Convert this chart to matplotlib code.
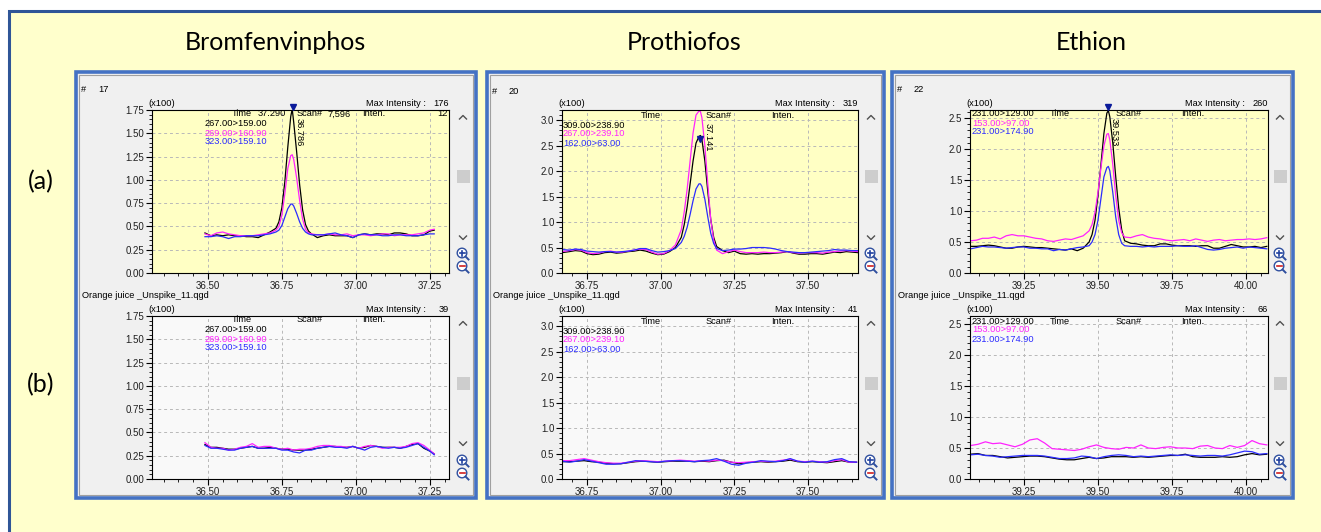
import matplotlib
matplotlib.use("Agg")
import matplotlib.pyplot as plt
from matplotlib.patches import Rectangle, Circle
from matplotlib.ticker import MultipleLocator, FormatStrFormatter

W, H = 1321, 532

# ---- labels -------------------------------------------------------------
titles = ["Bromfenvinphos", "Prothiofos", "Ethion"]
row_labels = ["(a)", "(b)"]
transitions = [
    ["267.00>159.00", "269.00>160.90", "323.00>159.10"],
    ["309.00>238.90", "267.00>239.10", "162.00>63.00"],
    ["231.00>129.00", "153.00>97.00", "231.00>174.90"],
]
event_no = ["17", "20", "22"]
max_int_a = ["176", "319", "260"]
max_int_b = ["39", "41", "66"]
peak_rt = ["36.786", "37.141", "39.533"]
peak_pos = [36.787, 37.135, 39.533]
file_name = "Orange juice _Unspike_11.qgd"

# ---- Bromfenvinphos ------------------------------------------------------
t1a = [36.49, 36.51, 36.53, 36.55, 36.57, 36.59, 36.61, 36.63, 36.65, 36.67,
       36.69, 36.71, 36.73, 36.74, 36.75, 36.76, 36.77, 36.78, 36.785, 36.79,
       36.80, 36.81, 36.82, 36.83, 36.84, 36.85, 36.87, 36.89, 36.91, 36.93,
       36.95, 36.97, 36.99, 37.01, 37.03, 37.05, 37.07, 37.09, 37.11, 37.13,
       37.15, 37.17, 37.19, 37.21, 37.23, 37.25, 37.265]
k1a = [0.43, 0.40, 0.41, 0.40, 0.41, 0.40, 0.40, 0.39, 0.39, 0.38,
       0.41, 0.44, 0.48, 0.55, 0.70, 0.98, 1.35, 1.68, 1.76, 1.62,
       1.30, 0.95, 0.68, 0.52, 0.45, 0.42, 0.38, 0.40, 0.41, 0.40,
       0.40, 0.40, 0.38, 0.41, 0.42, 0.41, 0.42, 0.42, 0.41, 0.43,
       0.43, 0.42, 0.40, 0.40, 0.41, 0.45, 0.46]
m1a = [0.42, 0.40, 0.43, 0.44, 0.42, 0.41, 0.40, 0.40, 0.40, 0.41,
       0.42, 0.43, 0.46, 0.50, 0.62, 0.85, 1.12, 1.26, 1.27, 1.22,
       1.02, 0.78, 0.58, 0.47, 0.43, 0.42, 0.41, 0.41, 0.42, 0.41,
       0.41, 0.42, 0.40, 0.41, 0.41, 0.40, 0.41, 0.42, 0.42, 0.40,
       0.41, 0.41, 0.41, 0.42, 0.43, 0.46, 0.47]
b1a = [0.39, 0.39, 0.40, 0.39, 0.37, 0.39, 0.39, 0.40, 0.40, 0.40,
       0.41, 0.42, 0.44, 0.46, 0.51, 0.60, 0.69, 0.74, 0.74, 0.72,
       0.64, 0.55, 0.48, 0.44, 0.42, 0.41, 0.41, 0.41, 0.42, 0.43,
       0.41, 0.40, 0.38, 0.41, 0.42, 0.41, 0.41, 0.40, 0.40, 0.41,
       0.41, 0.40, 0.40, 0.40, 0.41, 0.42, 0.42]

t1b = [36.49, 36.51, 36.53, 36.55, 36.57, 36.59, 36.61, 36.63, 36.65, 36.67,
       36.69, 36.71, 36.73, 36.75, 36.77, 36.79, 36.81, 36.83, 36.85, 36.87,
       36.89, 36.91, 36.93, 36.95, 36.97, 36.99, 37.01, 37.03, 37.05, 37.07,
       37.09, 37.11, 37.13, 37.15, 37.17, 37.19, 37.21, 37.23, 37.25, 37.265]
k1b = [0.37, 0.34, 0.34, 0.33, 0.32, 0.32, 0.33, 0.34, 0.35, 0.33,
       0.33, 0.34, 0.33, 0.32, 0.32, 0.31, 0.31, 0.31, 0.32, 0.33,
       0.34, 0.35, 0.35, 0.34, 0.34, 0.35, 0.33, 0.34, 0.36, 0.35,
       0.34, 0.34, 0.34, 0.33, 0.35, 0.37, 0.38, 0.33, 0.30, 0.27]
m1b = [0.39, 0.34, 0.33, 0.33, 0.31, 0.32, 0.34, 0.35, 0.38, 0.34,
       0.35, 0.35, 0.33, 0.32, 0.33, 0.31, 0.32, 0.32, 0.33, 0.35,
       0.36, 0.36, 0.35, 0.35, 0.34, 0.35, 0.33, 0.35, 0.36, 0.35,
       0.33, 0.34, 0.34, 0.34, 0.35, 0.38, 0.39, 0.36, 0.31, 0.27]
b1b = [0.36, 0.33, 0.33, 0.32, 0.31, 0.31, 0.33, 0.34, 0.35, 0.33,
       0.33, 0.33, 0.33, 0.31, 0.31, 0.29, 0.28, 0.31, 0.31, 0.33,
       0.34, 0.35, 0.34, 0.34, 0.33, 0.35, 0.33, 0.31, 0.34, 0.35,
       0.34, 0.33, 0.34, 0.33, 0.34, 0.36, 0.38, 0.34, 0.30, 0.26]

# ---- Prothiofos ----------------------------------------------------------
t2a = [36.665, 36.69, 36.71, 36.73, 36.75, 36.77, 36.79, 36.81, 36.83, 36.85,
       36.87, 36.89, 36.91, 36.93, 36.95, 36.97, 36.99, 37.01, 37.03, 37.05,
       37.07, 37.08, 37.09, 37.10, 37.11, 37.12, 37.13, 37.135, 37.14, 37.15,
       37.16, 37.17, 37.18, 37.19, 37.21, 37.23, 37.25, 37.27, 37.29, 37.31,
       37.33, 37.35, 37.37, 37.39, 37.41, 37.43, 37.45, 37.47, 37.49, 37.51,
       37.53, 37.55, 37.57, 37.59, 37.61, 37.63, 37.65, 37.67]
k2a = [0.40, 0.42, 0.44, 0.43, 0.38, 0.36, 0.37, 0.40, 0.41, 0.39,
       0.40, 0.42, 0.43, 0.45, 0.43, 0.39, 0.36, 0.37, 0.42, 0.50,
       0.70, 0.95, 1.30, 1.75, 2.20, 2.55, 2.68, 2.70, 2.62, 2.20,
       1.60, 1.05, 0.70, 0.52, 0.44, 0.40, 0.43, 0.38, 0.37, 0.38,
       0.37, 0.38, 0.38, 0.39, 0.40, 0.42, 0.39, 0.37, 0.37, 0.38,
       0.38, 0.37, 0.39, 0.41, 0.40, 0.42, 0.41, 0.40]
m2a = [0.42, 0.44, 0.46, 0.45, 0.40, 0.38, 0.39, 0.42, 0.43, 0.41,
       0.41, 0.43, 0.45, 0.47, 0.46, 0.41, 0.37, 0.38, 0.44, 0.55,
       0.85, 1.20, 1.65, 2.20, 2.75, 3.10, 3.18, 3.17, 3.05, 2.50,
       1.75, 1.05, 0.65, 0.45, 0.38, 0.42, 0.45, 0.42, 0.40, 0.40,
       0.40, 0.41, 0.40, 0.40, 0.41, 0.42, 0.40, 0.39, 0.40, 0.40,
       0.40, 0.39, 0.41, 0.42, 0.43, 0.44, 0.43, 0.42]
b2a = [0.46, 0.45, 0.47, 0.46, 0.43, 0.42, 0.41, 0.42, 0.42, 0.41,
       0.42, 0.43, 0.45, 0.48, 0.48, 0.44, 0.41, 0.42, 0.44, 0.48,
       0.60, 0.72, 0.90, 1.15, 1.42, 1.65, 1.75, 1.75, 1.70, 1.45,
       1.10, 0.78, 0.58, 0.48, 0.44, 0.45, 0.47, 0.47, 0.48, 0.50,
       0.50, 0.50, 0.49, 0.47, 0.44, 0.42, 0.41, 0.40, 0.40, 0.41,
       0.42, 0.43, 0.44, 0.46, 0.45, 0.45, 0.44, 0.44]

t2b = [36.665, 36.69, 36.715, 36.74, 36.765, 36.79, 36.815, 36.84, 36.865, 36.89,
       36.915, 36.94, 36.965, 36.99, 37.015, 37.04, 37.065, 37.09, 37.115, 37.14,
       37.165, 37.19, 37.215, 37.24, 37.265, 37.29, 37.315, 37.34, 37.365, 37.39,
       37.415, 37.44, 37.465, 37.49, 37.515, 37.54, 37.565, 37.59, 37.615, 37.64,
       37.665]
k2b = [0.34, 0.34, 0.35, 0.36, 0.34, 0.33, 0.31, 0.30, 0.30, 0.32,
       0.34, 0.35, 0.34, 0.33, 0.34, 0.35, 0.35, 0.35, 0.34, 0.35,
       0.34, 0.36, 0.37, 0.33, 0.30, 0.32, 0.33, 0.34, 0.33, 0.34,
       0.35, 0.37, 0.34, 0.33, 0.34, 0.33, 0.32, 0.34, 0.36, 0.33,
       0.33]
m2b = [0.36, 0.36, 0.38, 0.40, 0.37, 0.34, 0.32, 0.31, 0.31, 0.33,
       0.35, 0.36, 0.35, 0.34, 0.35, 0.36, 0.37, 0.36, 0.35, 0.36,
       0.35, 0.37, 0.36, 0.33, 0.32, 0.33, 0.34, 0.35, 0.34, 0.35,
       0.37, 0.39, 0.35, 0.34, 0.35, 0.34, 0.33, 0.36, 0.38, 0.33,
       0.33]
b2b = [0.35, 0.33, 0.35, 0.38, 0.35, 0.32, 0.29, 0.29, 0.30, 0.33,
       0.36, 0.35, 0.34, 0.33, 0.35, 0.36, 0.36, 0.35, 0.34, 0.36,
       0.37, 0.40, 0.35, 0.29, 0.27, 0.31, 0.33, 0.36, 0.35, 0.34,
       0.36, 0.40, 0.35, 0.33, 0.35, 0.33, 0.34, 0.38, 0.40, 0.34,
       0.33]

# ---- Ethion --------------------------------------------------------------
t3a = [39.07, 39.09, 39.11, 39.13, 39.15, 39.17, 39.19, 39.21, 39.23, 39.25,
       39.27, 39.29, 39.31, 39.33, 39.35, 39.37, 39.39, 39.41, 39.43, 39.45,
       39.47, 39.48, 39.49, 39.50, 39.51, 39.52, 39.53, 39.535, 39.54, 39.55,
       39.56, 39.57, 39.58, 39.59, 39.61, 39.63, 39.65, 39.67, 39.69, 39.71,
       39.73, 39.75, 39.77, 39.79, 39.81, 39.83, 39.85, 39.87, 39.89, 39.91,
       39.93, 39.95, 39.97, 39.99, 40.01, 40.03, 40.05, 40.07]
k3a = [0.43, 0.43, 0.44, 0.45, 0.44, 0.42, 0.40, 0.40, 0.42, 0.43,
       0.42, 0.41, 0.41, 0.40, 0.39, 0.38, 0.37, 0.39, 0.36, 0.40,
       0.50, 0.62, 0.85, 1.25, 1.75, 2.25, 2.58, 2.62, 2.52, 2.10,
       1.55, 1.05, 0.70, 0.52, 0.48, 0.47, 0.45, 0.44, 0.44, 0.47,
       0.47, 0.45, 0.44, 0.44, 0.44, 0.43, 0.44, 0.44, 0.40, 0.40,
       0.43, 0.46, 0.44, 0.42, 0.42, 0.43, 0.41, 0.43]
m3a = [0.52, 0.53, 0.56, 0.56, 0.58, 0.55, 0.60, 0.62, 0.60, 0.60,
       0.58, 0.56, 0.55, 0.52, 0.51, 0.53, 0.55, 0.54, 0.57, 0.60,
       0.68, 0.78, 0.98, 1.30, 1.70, 2.05, 2.24, 2.25, 2.15, 1.75,
       1.25, 0.85, 0.65, 0.58, 0.57, 0.60, 0.62, 0.58, 0.56, 0.55,
       0.53, 0.52, 0.53, 0.54, 0.52, 0.55, 0.53, 0.51, 0.53, 0.54,
       0.52, 0.53, 0.54, 0.54, 0.55, 0.54, 0.55, 0.57]
b3a = [0.39, 0.41, 0.43, 0.42, 0.42, 0.41, 0.40, 0.41, 0.42, 0.42,
       0.40, 0.40, 0.39, 0.39, 0.36, 0.38, 0.37, 0.39, 0.41, 0.42,
       0.44, 0.50, 0.62, 0.85, 1.20, 1.55, 1.70, 1.72, 1.65, 1.30,
       0.90, 0.62, 0.48, 0.44, 0.43, 0.43, 0.42, 0.43, 0.42, 0.43,
       0.43, 0.43, 0.44, 0.43, 0.43, 0.44, 0.41, 0.38, 0.37, 0.38,
       0.40, 0.41, 0.42, 0.40, 0.42, 0.41, 0.40, 0.39]

t3b = [39.07, 39.095, 39.12, 39.145, 39.17, 39.195, 39.22, 39.245, 39.27, 39.295,
       39.32, 39.345, 39.37, 39.395, 39.42, 39.445, 39.47, 39.495, 39.52, 39.545,
       39.57, 39.595, 39.62, 39.645, 39.67, 39.695, 39.72, 39.745, 39.77, 39.795,
       39.82, 39.845, 39.87, 39.895, 39.92, 39.945, 39.97, 39.995, 40.02, 40.045,
       40.07]
k3b = [0.40, 0.41, 0.38, 0.38, 0.36, 0.34, 0.35, 0.36, 0.37, 0.37,
       0.36, 0.34, 0.32, 0.31, 0.31, 0.33, 0.35, 0.33, 0.34, 0.36,
       0.36, 0.36, 0.35, 0.36, 0.35, 0.36, 0.37, 0.38, 0.38, 0.40,
       0.36, 0.35, 0.35, 0.35, 0.36, 0.35, 0.36, 0.39, 0.41, 0.39,
       0.40]
m3b = [0.54, 0.56, 0.60, 0.57, 0.58, 0.55, 0.52, 0.56, 0.63, 0.65,
       0.58, 0.49, 0.48, 0.47, 0.46, 0.48, 0.52, 0.55, 0.51, 0.49,
       0.48, 0.51, 0.50, 0.55, 0.50, 0.49, 0.51, 0.52, 0.50, 0.50,
       0.49, 0.53, 0.54, 0.50, 0.49, 0.54, 0.51, 0.54, 0.62, 0.57,
       0.55]
b3b = [0.39, 0.40, 0.38, 0.37, 0.35, 0.36, 0.37, 0.38, 0.38, 0.38,
       0.37, 0.35, 0.33, 0.33, 0.34, 0.37, 0.36, 0.33, 0.36, 0.38,
       0.39, 0.38, 0.36, 0.37, 0.36, 0.37, 0.38, 0.39, 0.38, 0.39,
       0.38, 0.37, 0.38, 0.38, 0.37, 0.39, 0.42, 0.45, 0.44, 0.40,
       0.41]

traces_a = [(t1a, [k1a, m1a, b1a]), (t2a, [k2a, m2a, b2a]), (t3a, [k3a, m3a, b3a])]
traces_b = [(t1b, [k1b, m1b, b1b]), (t2b, [k2b, m2b, b2b]), (t3b, [k3b, m3b, b3b])]

# ---- layout (pixels) -----------------------------------------------------
xlims = [(36.311, 37.315), (36.665, 37.67), (39.068, 40.074)]
ylims = [1.75, 3.2, 2.63]
ystep = [0.25, 0.5, 0.5]
yfmt = ["%.2f", "%.1f", "%.1f"]
panel_x = [(76, 476), (487, 884), (892, 1293)]
ax_lr = [(152, 449), (562, 858), (970, 1268)]
top_tb = (110, 273)
bot_tb = (316, 479)
colors = ["#000000", "#FF22FF", "#2B2BFF"]

plt.rcParams["font.family"] = ["Liberation Sans", "DejaVu Sans"]
SMALL = 6.7

fig = plt.figure(figsize=(W / 100, H / 100), dpi=100, facecolor="white")


def box(l, t, r, b):
    return [l / W, 1 - b / H, (r - l) / W, (b - t) / H]


bg = fig.add_axes([0, 0, 1, 1])
bg.set_xlim(0, W)
bg.set_ylim(H, 0)
bg.axis("off")
bg.add_patch(Rectangle((9, 11), W + 20, H + 20, facecolor="#FFFFCC",
                       edgecolor="#2F5597", lw=2.2))
for (pl, pr) in panel_x:
    bg.add_patch(Rectangle((pl, 72), pr - pl, 426, facecolor="#F0F0F0",
                           edgecolor="#4472C4", lw=2.6))
    bg.add_patch(Rectangle((pl + 3, 75), pr - pl - 6, 420, facecolor="none",
                           edgecolor="#A0A0A0", lw=0.8))

for i in range(3):
    l, r = ax_lr[i]
    for row, (t, b) in enumerate([top_tb, bot_tb]):
        ax = fig.add_axes(box(l, t, r, b))
        ax.set_facecolor("#FFFFC4" if row == 0 else "#F9F9F9")
        times, series = (traces_a if row == 0 else traces_b)[i]
        for vals, c in zip(series, colors):
            ax.plot(times, vals, color=c, lw=0.9)
        ax.set_xlim(*xlims[i])
        ax.set_ylim(0, ylims[i])
        ax.xaxis.set_major_locator(MultipleLocator(0.25))
        ax.xaxis.set_minor_locator(MultipleLocator(0.05))
        ax.yaxis.set_major_locator(MultipleLocator(ystep[i]))
        ax.yaxis.set_minor_locator(MultipleLocator(ystep[i] / 5))
        ax.xaxis.set_major_formatter(FormatStrFormatter("%.2f"))
        ax.yaxis.set_major_formatter(FormatStrFormatter(yfmt[i]))
        ax.tick_params(labelsize=7, length=4, width=0.8, pad=1.5,
                       labelcolor="#202020")
        ax.tick_params(which="minor", length=2, width=0.6)
        ax.grid(True, color="#B8B8B8", lw=0.7, ls=(0, (3, 3)))
        for s in ax.spines.values():
            s.set_linewidth(0.8)
        if row == 0:
            # peak marker and retention time
            top = ylims[i]
            if i == 1:
                ax.plot([peak_pos[i]], [2.63], marker="v", ms=5, color="#0A1A9A",
                        clip_on=False, zorder=5)
                ax.text(37.16, 2.95, peak_rt[i], rotation=-90, fontsize=SMALL,
                        ha="center", va="top")
            else:
                ax.plot([peak_pos[i]], [top * 1.02], marker="v", ms=5,
                        color="#0A1A9A", clip_on=False, zorder=5)
                xr = 36.807 if i == 0 else 39.554
                ax.text(xr, top * 0.95, peak_rt[i], rotation=-90, fontsize=SMALL,
                        ha="center", va="top")

ov = fig.add_axes([0, 0, 1, 1])
ov.set_xlim(0, W)
ov.set_ylim(H, 0)
ov.axis("off")


def txt(x, y, s, ha="left", **kw):
    kw.setdefault("fontsize", SMALL)
    ov.text(x, y, s, ha=ha, va="center", **kw)


for i in range(3):
    pl, pr = panel_x[i]
    ov.text((pl + pr) / 2 - 1, 42, titles[i], fontsize=18, family="Lato",
            ha="center", va="center")
for j, y in enumerate([182, 385]):
    ov.text(41, y, row_labels[j], fontsize=18, family="Lato", ha="center",
            va="center")

hash_y = [89, 91, 89]
leg_x = [205, 563, 972]
leg_ya = [124, 125, 114]
leg_yb = [330, 331, 321]
head_ya = [114, 115, 114]
head_yb = [319, 321, 321]
head_x = [(232, 297, 362), (641, 706, 771), (1050, 1116, 1181)]
for i in range(3):
    pl, pr = panel_x[i]
    l, r = ax_lr[i]
    txt(pl + 5, hash_y[i], "#")
    txt(pl + 22, hash_y[i], event_no[i])
    txt(pl + 6, 295, file_name)
    for y, mi in [(104, max_int_a[i]), (310, max_int_b[i])]:
        txt(l - 4, y, "(x100)")
        txt(r - 23, y, "Max Intensity :", ha="right")
        txt(r, y, mi, ha="right")
    for y in [head_ya[i], head_yb[i]]:
        tx, sx, ix = head_x[i]
        txt(tx, y, "Time")
        txt(sx, y, "Scan#")
        txt(ix, y, "Inten.")
    for ys in [leg_ya[i], leg_yb[i]]:
        for k in range(3):
            txt(leg_x[i], ys + 9 * k, transitions[i][k], color=colors[k])
    # scrollbar bits
    cx = pr - 13
    for up, thumb, down, zin in [(117, 170, 238, 253), (323, 377, 444, 460)]:
        ov.plot([cx - 3.5, cx, cx + 3.5], [up + 2, up - 1.5, up + 2],
                color="#505050", lw=1)
        ov.plot([cx - 3.5, cx, cx + 3.5], [down - 2, down + 1.5, down - 2],
                color="#505050", lw=1)
        ov.add_patch(Rectangle((cx - 6, thumb), 13, 13, facecolor="#CDCDCD",
                               edgecolor="none"))
        for n, (sym, col) in enumerate([("+", "#1F3F9F"), ("-", "#D02020")]):
            yy = zin + 13 * n
            ov.add_patch(Circle((cx - 1, yy), 4.8, facecolor="white",
                                edgecolor="#2F4F9F", lw=1))
            ov.plot([cx + 2.5, cx + 5.5], [yy + 3.5, yy + 6.5], color="#2F4F9F",
                    lw=1.4)
            ov.plot([cx - 3.5, cx + 1.5], [yy, yy], color=col, lw=1.2)
            if sym == "+":
                ov.plot([cx - 1, cx - 1], [yy - 2.5, yy + 2.5], color=col, lw=1.2)

# extra header values of the first chromatogram
txt(258, 114, "37.290")
txt(328, 114, "7,596")
txt(448, 114, "12", ha="right")

fig.savefig("out.png", dpi=100, facecolor="white")
